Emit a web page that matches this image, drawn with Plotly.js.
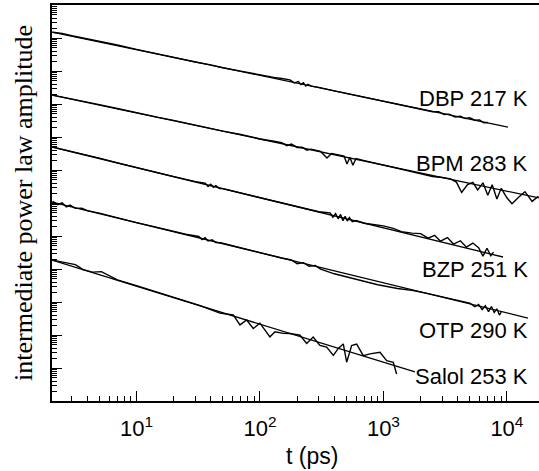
<!DOCTYPE html>
<html>
<head>
<meta charset="utf-8">
<script src="https://cdn.plot.ly/plotly-3.0.1.min.js"></script>
<style>html,body{margin:0;padding:0;background:#fff;}#chart{width:539px;height:471px;}</style>
</head>
<body>
<div id="chart"></div>
<script>
// ---- data (t in ps, amplitude in arbitrary units) ----
var seriesNames = ["DBP 217 K", "BPM 283 K", "BZP 251 K", "OTP 290 K", "Salol 253 K"];

var dbpT = [2.1,2.5,3,4,5,7,10,15,20,30,40,50,70,100,130,150,175,190,205,215,225,235,245,260,300,400,500,700,1000,1500,2000,2500,2800,3100,3400,3800,4200,4600,5000,5500,6000,6500,7000];
var dbpA = [1.50e11,1.37e11,1.17e11,9.46e10,8.15e10,6.12e10,4.53e10,3.23e10,2.64e10,1.88e10,1.53e10,1.26e10,9.93e9,7.52e9,6.41e9,5.94e9,5.38e9,4.35e9,4.82e9,3.86e9,4.38e9,3.52e9,3.92e9,3.48e9,3.19e9,2.49e9,2.09e9,1.61e9,1.22e9,8.89e8,7.10e8,5.83e8,5.85e8,4.82e8,4.92e8,4.02e8,4.27e8,3.62e8,3.81e8,3.23e8,3.30e8,2.70e8,2.74e8];

var bpmT = [2.1,3,4,5,7,10,15,20,30,50,70,100,130,150,165,180,200,220,240,260,310,349,380,430,480,507,535,566,600,700,1000,1500,2000,2500,3000,3500,3900,4300,4800,5300,5800,6400,7000,7600,8300,9000,10000,11000,12500,14000,16000,18000];
var bpmA = [1.85e9,1.43e9,1.15e9,9.55e8,7.33e8,5.40e8,3.92e8,3.19e8,2.26e8,1.51e8,1.19e8,8.73e7,7.43e7,6.79e7,5.48e7,6.15e7,4.82e7,4.91e7,3.98e7,4.30e7,3.66e7,2.30e7,3.18e7,2.88e7,2.64e7,1.52e7,2.43e7,1.40e7,2.22e7,1.92e7,1.41e7,1.03e7,7.62e6,6.38e6,5.93e6,5.37e6,4.30e6,2.08e6,3.64e6,4.24e6,2.49e6,4.09e6,1.71e6,3.57e6,1.33e6,2.79e6,1.44e6,9.48e5,1.52e6,2.20e6,1.12e6,1.61e6];

var bzpT = [2.1,3,4,5,7,10,15,20,30,36,38,40,42,44,47,50,70,100,150,200,300,370,390,410,430,450,470,490,510,530,560,600,700,850,1000,1200,1400,1700,2000,2300,2600,2900,3300,3700,4200,4700,5300,5900,6400,6900,7400,7800];
var bzpA = [4.91e7,3.63e7,2.72e7,2.28e7,1.64e7,1.21e7,8.15e6,6.27e6,4.44e6,4.02e6,3.18e6,3.73e6,2.97e6,3.35e6,2.74e6,2.72e6,2.00e6,1.44e6,1.02e6,7.66e5,5.42e5,5.01e5,3.71e5,4.78e5,3.32e5,4.50e5,2.92e5,3.97e5,2.84e5,3.61e5,2.73e5,2.94e5,2.44e5,2.19e5,2.02e5,1.71e5,1.36e5,1.22e5,1.18e5,8.61e4,1.04e5,6.98e4,8.95e4,5.71e4,7.19e4,4.59e4,6.10e4,4.39e4,2.45e4,4.27e4,2.53e4,3.25e4];

var otpT = [2.1,2.3,2.5,2.7,2.9,3.2,3.6,4,5,7,10,15,20,25,32,34,36,38,41,44,48,70,100,150,180,200,225,250,280,310,400,600,900,1300,1700,2200,3000,4000,5000,5500,5900,6300,6700,7100,7500,7900,8300,8700,9000];
var otpA = [1.13e6,8.87e5,1.01e6,7.67e5,8.65e5,6.87e5,6.93e5,5.87e5,4.91e5,3.52e5,2.55e5,1.80e5,1.35e5,1.13e5,9.66e4,7.80e4,8.89e4,7.03e4,7.71e4,6.31e4,6.24e4,4.32e4,3.19e4,2.15e4,1.87e4,1.45e4,1.56e4,1.21e4,1.28e4,9.91e3,7.16e3,4.84e3,3.34e3,2.56e3,2.25e3,1.86e3,1.44e3,1.08e3,923,719,849,593,774,508,731,482,622,403,492];

var salolT = [2.1,2.5,3.2,3.7,4.4,5.2,6,7,10,15,20,32.7,47.4,60.8,68.9,78,88.3,100,120.5,132.4,154.5,175,211,239,270,306,347,393,431,473,504,553,607,687,778,938,1062,1202,1279];
var salolA = [1.85e4,1.61e4,1.36e4,9.59e3,8.04e3,8.34e3,6.15e3,4.70e3,3.11e3,1.91e3,1.40e3,774,459,405,202,284,158,228,88.1,125,112,111,98.6,55.1,86.9,48.6,43.1,24.1,39.4,53.5,15.0,47.9,53.0,23.8,26.9,29.9,16.7,14.8,6.59];

// power-law fits (end points)
var fitDbpT = [2.07, 10200],  fitDbpA = [1.51e11, 2.0e8];
var fitBpmT = [2.07, 18200],  fitBpmA = [1.87e9, 1.42e6];
var fitBzpT = [2.07, 9290],   fitBzpA = [4.98e7, 2.31e4];
var fitOtpT = [2.07, 14790],  fitOtpA = [1.07e6, 327];
var fitSalolT = [2.07, 1800], fitSalolA = [1.87e4, 7.57];

var xTickVals = [10, 100, 1000, 10000];
var xTickText = ["10<sup>1</sup>", "10<sup>2</sup>", "10<sup>3</sup>", "10<sup>4</sup>"];

// ---- build traces ----
var dataSets = [[dbpT, dbpA], [bpmT, bpmA], [bzpT, bzpA], [otpT, otpA], [salolT, salolA]];
var fitSets = [[fitDbpT, fitDbpA], [fitBpmT, fitBpmA], [fitBzpT, fitBzpA], [fitOtpT, fitOtpA], [fitSalolT, fitSalolA]];
var traces = [];
fitSets.forEach(function (f, i) {
  traces.push({x: f[0], y: f[1], type: 'scatter', mode: 'lines', name: seriesNames[i] + ' fit',
    line: {color: '#000', width: 1.3}, hoverinfo: 'skip'});
});
dataSets.forEach(function (d, i) {
  traces.push({x: d[0], y: d[1], type: 'scatter', mode: 'lines', name: seriesNames[i],
    line: {color: '#000', width: 1.4}});
});

var labelY = [0.765, 0.601, 0.331, 0.177, 0.061];
var annotations = seriesNames.map(function (n, i) {
  return {text: n, xref: 'paper', yref: 'paper', x: 0.981, y: labelY[i], xanchor: 'right', yanchor: 'middle',
    showarrow: false, font: {family: 'Liberation Sans, Arial, sans-serif', size: 22, color: '#000'}};
});
annotations.push({text: 't (ps)', xref: 'paper', yref: 'paper', x: (312 - 52) / 487, y: -0.139, xanchor: 'center', yanchor: 'middle',
  showarrow: false, font: {family: 'Liberation Sans, Arial, sans-serif', size: 23, color: '#000'}});

var layout = {
  width: 539, height: 471,
  margin: {l: 52, r: 0, t: 5, b: 70},
  paper_bgcolor: '#fff', plot_bgcolor: '#fff',
  showlegend: false,
  xaxis: {
    type: 'log', range: [0.316, 4.26],
    tickmode: 'array', tickvals: xTickVals, ticktext: xTickText,
    ticks: 'inside', ticklen: 10, tickwidth: 1, tickcolor: '#000',
    ticklabelstandoff: 7,
    minor: {tickmode: 'linear', dtick: 'D1', ticks: 'inside', ticklen: 5, tickwidth: 1, tickcolor: '#000'},
    showline: true, linewidth: 2, linecolor: '#000', mirror: true,
    showgrid: false, zeroline: false,
    tickfont: {family: 'Liberation Sans, Arial, sans-serif', size: 22, color: '#000'}
  },
  yaxis: {
    type: 'log', range: [0, 12],
    tickmode: 'linear', tick0: 0, dtick: 1,
    ticks: 'inside', ticklen: 10, tickwidth: 1, tickcolor: '#000',
    minor: {dtick: 'D1', ticks: 'inside', ticklen: 5, tickwidth: 1, tickcolor: '#000'},
    showticklabels: false,
    showline: true, linewidth: 2, linecolor: '#000',
    showgrid: false, zeroline: false,
    title: {text: 'intermediate power law amplitude', standoff: 10,
      font: {family: 'Liberation Serif, Times New Roman, serif', size: 26, color: '#000'}}
  },
  annotations: annotations
};

Plotly.newPlot('chart', traces, layout, {displayModeBar: false, staticPlot: true});
</script>
</body>
</html>
